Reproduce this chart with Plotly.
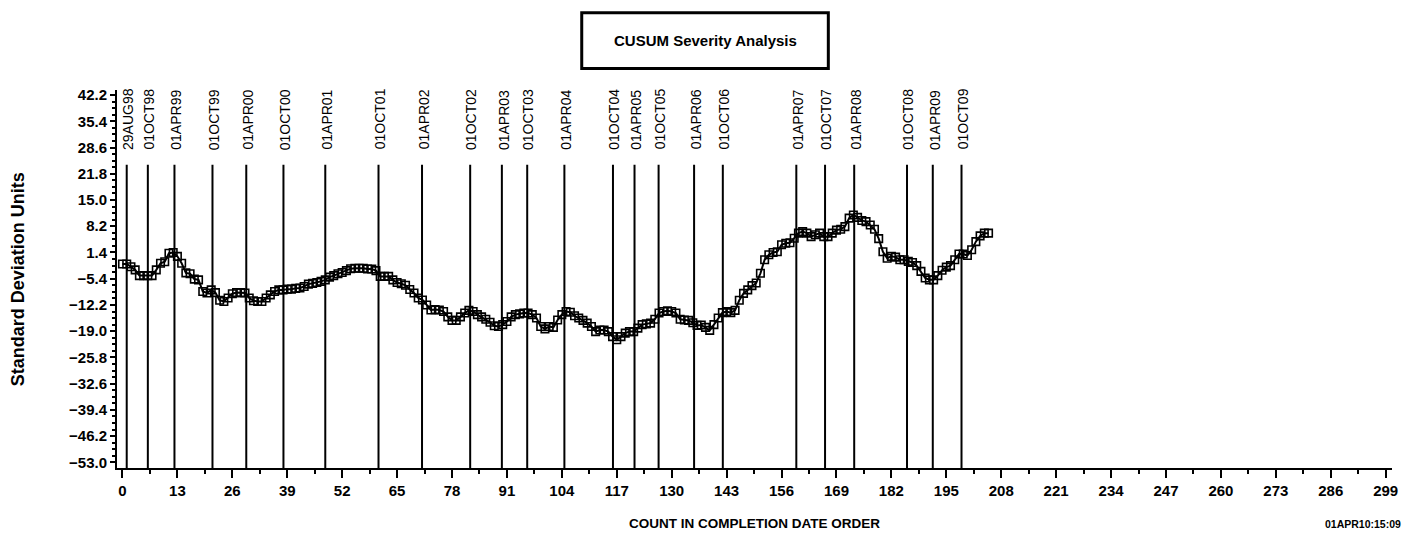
import plotly.graph_objects as go

# CUSUM values, one per observation (count in completion date order)
counts = list(range(0, 206))
cusum = [
    -1.6, -1.6, -2.3, -3.1, -4.6, -4.6, -4.6, -4.6, -3.1, -1.4,
    -1.0, 1.2, 1.4, 0.4, -1.4, -3.9, -4.1, -5.5, -5.7, -8.7,
    -9.1, -8.3, -9.0, -11.0, -11.3, -10.4, -9.3, -9.0, -9.0, -9.1,
    -10.4, -11.1, -11.3, -11.3, -10.4, -9.6, -8.7, -8.3, -8.3, -8.1,
    -8.1, -7.9, -7.8, -7.4, -6.8, -6.6, -6.4, -6.1, -5.7, -5.0,
    -4.6, -4.1, -3.8, -3.3, -2.8, -2.7, -2.7, -2.7, -2.9, -2.9,
    -3.3, -4.8, -4.8, -4.8, -5.7, -6.4, -6.7, -7.1, -8.2, -9.1,
    -10.4, -10.9, -12.2, -13.5, -13.4, -13.5, -13.9, -15.3, -16.2, -16.2,
    -15.3, -14.3, -13.6, -13.9, -14.7, -15.3, -15.9, -16.7, -17.6, -17.8,
    -17.3, -16.5, -15.3, -14.7, -14.5, -14.3, -14.3, -14.7, -15.6, -17.8,
    -18.4, -17.8, -18.0, -16.1, -14.7, -13.9, -14.1, -15.0, -15.6, -16.2,
    -16.9, -17.8, -19.1, -18.7, -18.7, -19.1, -20.4, -21.2, -20.4, -19.5,
    -19.1, -19.1, -18.2, -17.3, -17.1, -16.9, -15.9, -14.3, -13.9, -13.7,
    -13.9, -14.3, -15.9, -16.1, -16.2, -16.8, -17.5, -17.4, -18.0, -18.8,
    -17.3, -15.6, -14.2, -13.9, -14.2, -13.6, -11.0, -9.2, -8.3, -7.2,
    -6.5, -4.0, -0.5, 0.8, 1.4, 1.6, 3.4, 3.8, 3.9, 5.1,
    6.4, 6.8, 6.4, 5.5, 6.0, 6.4, 5.5, 5.5, 6.4, 7.2,
    7.4, 8.1, 10.3, 11.1, 10.5, 9.7, 9.4, 8.5, 7.4, 5.0,
    1.6, -0.1, 0.4, 0.2, -0.5, -0.5, -0.9, -1.2, -2.0, -3.5,
    -5.2, -5.7, -5.7, -4.6, -3.2, -2.4, -2.0, -0.5, 1.0, 1.0,
    0.6, 2.1, 4.2, 5.7, 6.4, 6.4,
]

# date reference lines
ref_counts = [1.0, 6.0, 12.3, 21.3, 29.3, 38.1, 48.0, 60.6, 70.9, 82.3, 89.8, 95.8,
              104.6, 116.1, 121.2, 126.9, 135.3, 142.1, 159.5, 166.3, 173.2, 185.7,
              191.8, 198.6]
ref_labels = ["29AUG98", "01OCT98", "01APR99", "01OCT99", "01APR00", "01OCT00",
              "01APR01", "01OCT01", "01APR02", "01OCT02", "01APR03", "01OCT03",
              "01APR04", "01OCT04", "01APR05", "01OCT05", "01APR06", "01OCT06",
              "01APR07", "01OCT07", "01APR08", "01OCT08", "01APR09", "01OCT09"]

x_ticks = list(range(0, 300, 13))
Y_MIN, Y_MAX = -54.45, 43.5
LINE_TOP = 24.1
LABEL_Y = 27.5

FONT = "Liberation Sans, Arial, sans-serif"

fig = go.Figure()

# vertical date lines
vx, vy = [], []
for c in ref_counts:
    vx += [c, c, None]
    vy += [LINE_TOP, Y_MIN, None]
fig.add_trace(go.Scatter(x=vx, y=vy, mode="lines",
                         line=dict(color="black", width=2),
                         hoverinfo="skip", showlegend=False))

fig.add_trace(go.Scatter(
    x=counts, y=cusum, mode="lines+markers",
    line=dict(color="black", width=2),
    marker=dict(symbol="square-open", size=7.5, color="black",
                line=dict(color="black", width=1.6)),
    showlegend=False,
))

for c, lab in zip(ref_counts, ref_labels):
    fig.add_annotation(x=c, y=LABEL_Y, xref="x", yref="y", text=lab,
                       textangle=-90, showarrow=False, xanchor="center",
                       yanchor="bottom", xshift=1.5,
                       font=dict(family=FONT, size=14, color="black"))

# title box
fig.add_shape(type="rect", xref="paper", yref="paper",
              x0=0.3645, x1=0.5579, y0=1.0566, y1=1.2043,
              line=dict(color="black", width=3), fillcolor="white")
fig.add_annotation(x=0.4612, y=1.131, xref="paper", yref="paper",
                   text="<b>CUSUM Severity Analysis</b>", showarrow=False,
                   xanchor="center", yanchor="middle",
                   font=dict(family=FONT, size=15, color="black"))

fig.add_annotation(x=-0.0774, y=0.5, xref="paper", yref="paper",
                   text="<b>Standard Deviation Units</b>", textangle=-90,
                   xanchor="center", yanchor="middle",
                   showarrow=False, font=dict(family=FONT, size=18, color="black"))
fig.add_annotation(x=0.5, y=-0.148, xref="paper", yref="paper",
                   text="<b>COUNT IN COMPLETION DATE ORDER</b>", showarrow=False,
                   xanchor="center", yanchor="middle",
                   font=dict(family=FONT, size=13.5, color="black"))
fig.add_annotation(x=1.0086, y=-0.148, xref="paper", yref="paper",
                   text="<b>01APR10:15:09</b>", showarrow=False, xanchor="right",
                   yanchor="middle", font=dict(family=FONT, size=10.5, color="black"))

fig.update_layout(
    width=1419, height=536,
    margin=dict(l=117, r=27, t=90, b=68),
    paper_bgcolor="white", plot_bgcolor="white",
    font=dict(family=FONT, color="black"),
    xaxis=dict(
        range=[-1.3, 300.5], tickmode="array", tickvals=x_ticks,
        showgrid=False, zeroline=False, showline=True, linecolor="black",
        linewidth=2, ticks="outside", ticklen=8, tickwidth=2, tickcolor="black",
        tickfont=dict(family=FONT, size=15, weight="bold"),
        minor=dict(dtick=6.5, tick0=0, ticks="outside", ticklen=4,
                   tickwidth=1.5, tickcolor="black", showgrid=False),
    ),
    yaxis=dict(
        range=[Y_MIN, Y_MAX], tickmode="linear", tick0=-53.0, dtick=6.8,
        tickformat=".1f", showgrid=False, zeroline=False, showline=True,
        linecolor="black", linewidth=2, ticks="outside", ticklen=5,
        tickwidth=2, tickcolor="black",
        tickfont=dict(family=FONT, size=15, weight="bold"),
        minor=dict(dtick=1.7, tick0=-53.0, ticks="outside", ticklen=3,
                   tickwidth=1.5, tickcolor="black", showgrid=False),
    ),
)

fig.write_html("out.html", config=dict(displayModeBar=False),
               post_script="document.body.style.margin='0';document.body.style.overflow='hidden';")
